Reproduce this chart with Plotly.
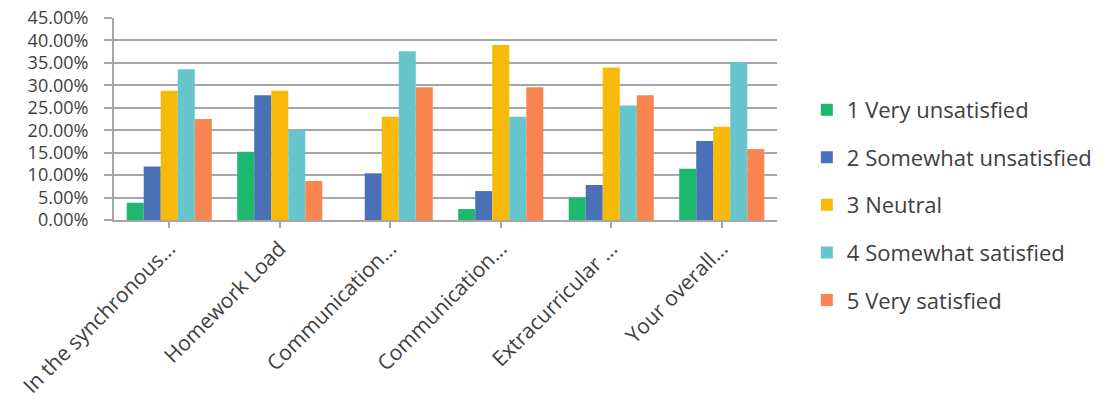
import plotly.graph_objects as go

categories = ["In the synchronous...", "Homework Load", "Communication...",
              "Communication...", "Extracurricular ...", "Your overall..."]
series_names = ["1 Very unsatisfied", "2 Somewhat unsatisfied", "3 Neutral",
                "4 Somewhat satisfied", "5 Very satisfied"]
very_unsatisfied = [0.0385, 0.152, 0.0, 0.0245, 0.0497, 0.114]
somewhat_unsatisfied = [0.119, 0.278, 0.104, 0.0645, 0.078, 0.176]
neutral = [0.288, 0.288, 0.230, 0.390, 0.340, 0.208]
somewhat_satisfied = [0.336, 0.200, 0.376, 0.230, 0.255, 0.351]
very_satisfied = [0.225, 0.087, 0.296, 0.296, 0.278, 0.158]
colors = ["#1DB86E", "#4A70B8", "#F7BA0A", "#67C6CB", "#F98550"]

values = [very_unsatisfied, somewhat_unsatisfied, neutral, somewhat_satisfied, very_satisfied]
x_ids = list(range(len(categories)))

font_family = "Open Sans, Liberation Sans, sans-serif"
text_color = "#404040"
grid_color = "#a6a6a6"

fig = go.Figure()
for i, (name, vals) in enumerate(zip(series_names, values)):
    fig.add_trace(go.Bar(x=x_ids, y=vals, name=name, marker_color=colors[i],
                         marker_line_width=0, legendgroup=f"g{i}"))

fig.update_layout(
    width=1107, height=400,
    margin=dict(l=114, r=330, t=18, b=180, autoexpand=False),
    paper_bgcolor="white", plot_bgcolor="white",
    barmode="group", bargap=0.23, bargroupgap=0,
    font=dict(family=font_family, size=18, color=text_color),
    legend=dict(x=1.045, y=0.075, xanchor="left", yanchor="middle",
                font=dict(size=22, color=text_color), tracegroupgap=16,
                itemwidth=30, traceorder="grouped", maxheight=380),
    showlegend=True,
)
fig.update_xaxes(
    tickmode="array", tickvals=x_ids, ticktext=categories,
    range=[-0.5, len(categories) - 0.5],
    tickangle=-45, tickson="boundaries", ticks="outside", ticklen=6,
    tickcolor=grid_color, tickwidth=2,
    showline=True, linecolor=grid_color, linewidth=2,
    showgrid=False, tickfont=dict(size=21, color=text_color), automargin=False,
)
fig.update_yaxes(
    range=[0, 0.45], dtick=0.05, tickformat=".2%",
    ticks="outside", ticklen=8, tickcolor=grid_color, tickwidth=2,
    showline=True, linecolor=grid_color, linewidth=2,
    showgrid=True, gridcolor=grid_color, gridwidth=2,
    tickfont=dict(size=18, color=text_color), ticklabelstandoff=12,
    zeroline=False, automargin=False,
)

fig.write_html("out.html")
